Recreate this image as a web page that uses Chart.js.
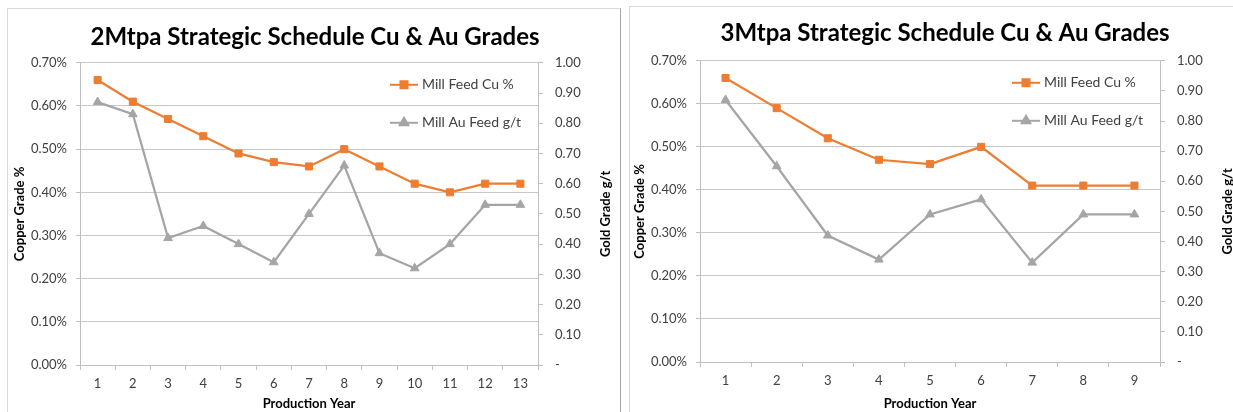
<!DOCTYPE html>
<html>
<head>
<meta charset="utf-8">
<script src="https://cdn.jsdelivr.net/npm/chart.js@4/dist/chart.umd.min.js"></script>
<style>
  body { margin: 0; background: #fff; overflow: hidden; }
  #wrap { position: relative; width: 1233px; height: 412px; overflow: hidden; }
  canvas { position: absolute; top: 0; }
  #c1 { left: 0; }
  #c2 { left: 620px; }
  .frame { position: absolute; border: 1px solid #d9d9d9; pointer-events: none; }
</style>
</head>
<body>
<div id="wrap">
  <canvas id="c1" width="620" height="412"></canvas>
  <canvas id="c2" width="640" height="412"></canvas>
  <div class="frame" style="left:7px;top:8px;width:612px;height:430px;border-right-color:#a6a6a6"></div>
  <div class="frame" style="left:629px;top:6px;width:640px;height:430px"></div>
</div>
<script>
/* global Chart */
// 2Mtpa schedule
const years2 = ['1', '2', '3', '4', '5', '6', '7', '8', '9', '10', '11', '12', '13']
const cu2 = [0.66, 0.61, 0.57, 0.53, 0.49, 0.47, 0.46, 0.50, 0.46, 0.42, 0.40, 0.42, 0.42]
const au2 = [0.87, 0.83, 0.42, 0.46, 0.40, 0.34, 0.50, 0.66, 0.37, 0.32, 0.40, 0.53, 0.53]

// 3Mtpa schedule
const years3 = ['1', '2', '3', '4', '5', '6', '7', '8', '9']
const cu3 = [0.66, 0.59, 0.52, 0.47, 0.46, 0.50, 0.41, 0.41, 0.41]
const au3 = [0.87, 0.65, 0.42, 0.34, 0.49, 0.54, 0.33, 0.49, 0.49]

// axis ticks
const cuTicks = [0, 0.1, 0.2, 0.3, 0.4, 0.5, 0.6, 0.7]
const auTicks = [0, 0.1, 0.2, 0.3, 0.4, 0.5, 0.6, 0.7, 0.8, 0.9, 1.0]

const ORANGE = '#ED7D31'
const GREY = '#A5A5A5'
const AXIS = '#bfbfbf'
const GRID = '#c8c8c8'
const TEXT = '#404040'
const FONT = 'Lato, "Open Sans", sans-serif'

// legend stacked inside the plot, top right
const sideLegend = {
  id: 'sideLegend',
  afterDraw (chart, args, opts) {
    const { ctx, chartArea } = chart
    const x = chartArea.right - opts.offsetX
    chart.data.datasets.forEach((ds, i) => {
      const y = chartArea.top + opts.top + i * opts.gap
      ctx.save()
      ctx.strokeStyle = ds.borderColor
      ctx.fillStyle = ds.backgroundColor
      ctx.lineWidth = 2
      ctx.beginPath()
      ctx.moveTo(x, y)
      ctx.lineTo(x + opts.lineLength, y)
      ctx.stroke()
      Chart.helpers.drawPoint(ctx, { pointStyle: ds.pointStyle, radius: ds.pointRadius, borderWidth: 1, rotation: 0 }, x + opts.lineLength / 2, y)
      ctx.fillStyle = TEXT
      ctx.font = `14px ${FONT}`
      ctx.textBaseline = 'middle'
      ctx.textAlign = 'left'
      ctx.fillText(ds.label, x + opts.lineLength + 4, y)
      ctx.restore()
    })
  }
}

// right axis title, reading bottom to top like the left one
const rightTitle = {
  id: 'rightTitle',
  afterDraw (chart, args, opts) {
    const { ctx, chartArea } = chart
    ctx.save()
    ctx.translate(chartArea.right + opts.offsetX, (chartArea.top + chartArea.bottom) / 2)
    ctx.rotate(-Math.PI / 2)
    ctx.font = `bold 13px ${FONT}`
    ctx.fillStyle = '#000'
    ctx.textAlign = 'center'
    ctx.textBaseline = 'middle'
    ctx.fillText(opts.text, 0, 0)
    ctx.restore()
  }
}

const makeChart = (id, title, labels, cu, au, box) => {
  const tickFont = { family: FONT, size: 13 }
  const axisTitleFont = { family: FONT, size: 13, weight: 'bold' }
  return new Chart(document.getElementById(id), {
    type: 'line',
    data: {
      labels,
      datasets: [
        { label: 'Mill Feed Cu %', data: cu, yAxisID: 'y', borderColor: ORANGE, backgroundColor: ORANGE, borderWidth: 2.25, pointStyle: 'rect', pointRadius: 5, pointHoverRadius: 5, pointBorderWidth: 1 },
        { label: 'Mill Au Feed g/t', data: au, yAxisID: 'y1', borderColor: GREY, backgroundColor: GREY, borderWidth: 2.25, pointStyle: 'triangle', pointRadius: 5, pointHoverRadius: 5, pointBorderWidth: 1 }
      ]
    },
    plugins: [sideLegend, rightTitle],
    options: {
      responsive: false,
      animation: false,
      layout: { padding: { left: 10, right: 0, top: 0, bottom: 0 } },
      plugins: {
        legend: { display: false },
        tooltip: { enabled: false },
        title: {
          display: true,
          text: title,
          color: '#000',
          font: { family: FONT, size: 24, weight: 'bold' },
          padding: { top: box.titleTop, bottom: box.titleBottom }
        },
        sideLegend: { offsetX: 148, top: 22, gap: 38, lineLength: 28 },
        rightTitle: { text: 'Gold Grade g/t', offsetX: 68 }
      },
      scales: {
        x: {
          offset: true,
          grid: { offset: true, drawOnChartArea: false, tickLength: 5, color: AXIS },
          border: { color: AXIS },
          ticks: { color: TEXT, font: tickFont, padding: 6, maxRotation: 0, autoSkip: false },
          title: { display: true, text: 'Production Year', color: '#000', font: axisTitleFont, padding: 0 },
          afterFit: s => { s.height = box.xHeight }
        },
        y: {
          position: 'left',
          min: 0,
          max: 0.7,
          afterBuildTicks: s => { s.ticks = cuTicks.map(value => ({ value })) },
          grid: { color: GRID, tickLength: 4, tickColor: AXIS },
          border: { color: AXIS },
          ticks: { color: TEXT, font: tickFont, padding: 9, callback: v => `${v.toFixed(2)}%` },
          title: { display: true, text: 'Copper Grade %', color: '#000', font: axisTitleFont, padding: { top: 2, bottom: 0 } },
          afterFit: s => { s.width = 70 }
        },
        y1: {
          position: 'right',
          min: 0,
          max: 1,
          afterBuildTicks: s => { s.ticks = auTicks.map(value => ({ value })) },
          grid: { drawOnChartArea: false, tickLength: 5, color: AXIS },
          border: { color: AXIS },
          ticks: { color: TEXT, font: tickFont, padding: 12, callback: v => v === 0 ? '-' : v.toFixed(2) },
          afterFit: s => { s.width = box.rightWidth }
        }
      }
    }
  })
}

makeChart('c1', '2Mtpa Strategic Schedule Cu & Au Grades', years2, cu2, au2,
  { titleTop: 23, titleBottom: 11, xHeight: 47, rightWidth: 82 })
makeChart('c2', '3Mtpa Strategic Schedule Cu & Au Grades', years3, cu3, au3,
  { titleTop: 19, titleBottom: 13, xHeight: 50, rightWidth: 100 })
</script>
</body>
</html>
